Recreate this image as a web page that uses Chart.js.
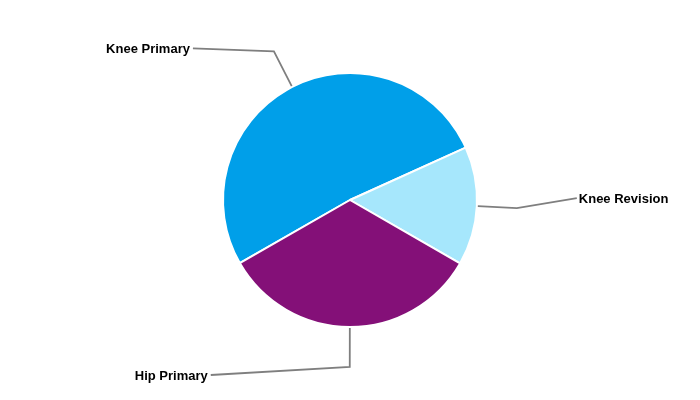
<!DOCTYPE html>
<html>
<head>
<meta charset="utf-8">
<script src="https://cdn.jsdelivr.net/npm/chart.js@4"></script>
<style>
  html, body { margin: 0; padding: 0; background: #ffffff; }
  #wrap { width: 700px; height: 400px; position: relative; }
</style>
</head>
<body>
<div id="wrap"><canvas id="c" width="700" height="400"></canvas></div>
<script>
// ---- data ----
const categories = ["Knee Primary", "Knee Revision", "Hip Primary"];
const shares = [51.5, 15.1, 33.4];
const sliceColors = ["#009FE9", "#A6E7FC", "#841078"];

// ---- label layout (offsets from leader elbow, px) ----
const labelOffsets = [
  { dx: -81, dy: -3 },
  { dx: 60, dy: -10 },
  { dx: -139, dy: 8 }
];

const leaderPlugin = {
  id: 'leaders',
  afterDatasetsDraw(chart) {
    const ctx = chart.ctx;
    const meta = chart.getDatasetMeta(0);
    ctx.save();
    ctx.font = 'bold 13px "Liberation Sans", Arial, sans-serif';
    ctx.textBaseline = 'middle';
    meta.data.forEach((arc, i) => {
      const p = arc.getProps(['x', 'y', 'startAngle', 'endAngle', 'outerRadius'], true);
      const mid = (p.startAngle + p.endAngle) / 2;
      const r0 = p.outerRadius + 1;
      const r1 = p.outerRadius + 40;
      const x0 = p.x + Math.cos(mid) * r0, y0 = p.y + Math.sin(mid) * r0;
      const x1 = p.x + Math.cos(mid) * r1, y1 = p.y + Math.sin(mid) * r1;
      const off = labelOffsets[i];
      const x2 = x1 + off.dx, y2 = y1 + off.dy;
      ctx.strokeStyle = '#7f7f7f';
      ctx.lineWidth = 1.8;
      ctx.beginPath();
      ctx.moveTo(x0, y0);
      ctx.lineTo(x1, y1);
      ctx.lineTo(x2, y2);
      ctx.stroke();
      ctx.fillStyle = '#000000';
      if (x2 >= p.x) {
        ctx.textAlign = 'left';
        ctx.fillText(categories[i], x2 + 2, y2 + 1);
      } else {
        ctx.textAlign = 'right';
        ctx.fillText(categories[i], x2 - 3, y2 + 1);
      }
    });
    ctx.restore();
  }
};

new Chart(document.getElementById('c'), {
  type: 'pie',
  data: {
    labels: categories,
    datasets: [{
      data: shares,
      backgroundColor: sliceColors,
      borderColor: '#ffffff',
      borderWidth: 2
    }]
  },
  options: {
    responsive: false,
    animation: false,
    rotation: 240.2,
    layout: { padding: { top: 72, bottom: 72, left: 0, right: 0 } },
    plugins: {
      legend: { display: false },
      tooltip: { enabled: false }
    }
  },
  plugins: [leaderPlugin]
});
</script>
</body>
</html>
